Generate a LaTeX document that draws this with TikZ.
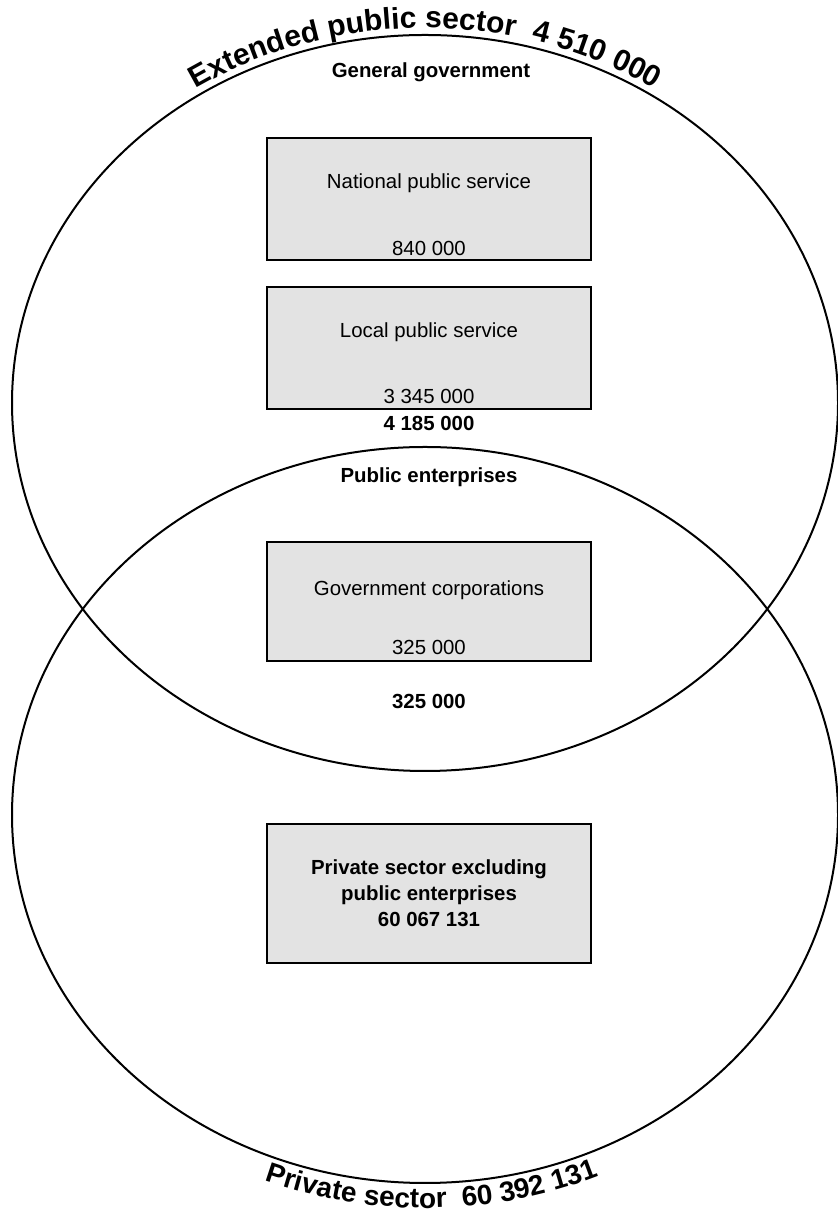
\documentclass[tikz,border=0pt]{standalone}
\usepackage{fontspec}
\setmainfont{Liberation Sans}
\usetikzlibrary{decorations.text}

\definecolor{boxgray}{RGB}{227,227,227}

\tikzset{
  sector/.style = {draw, line width=1pt},
  servbox/.style = {draw, fill=boxgray, line width=1.3pt,
                    minimum width=162pt, inner sep=0pt},
  lbl/.style = {inner sep=0pt, font=\fontsize{10.2}{12}\selectfont},
  sumlbl/.style = {inner sep=0pt, font=\fontsize{10.2}{12}\selectfont\bfseries},
}

\begin{document}
\begin{tikzpicture}[x=0.5pt, y=0.5pt]
    \useasboundingbox (0,0) rectangle (838,1214);

    % Boxes
    \node[servbox, minimum height=61pt]   (natbox) at (429,1015) {};
    \node[servbox, minimum height=61pt]   (locbox) at (429,866) {};
    \node[servbox, minimum height=59.5pt] (corpbox) at (429,612.5) {};
    \node[servbox, minimum height=69.5pt, align=center,
          font=\fontsize{10.2}{13}\selectfont\bfseries] (privbox) at (429,320.5)
          {Private sector excluding\\public enterprises\\60 067 131};

    % Labels
    \node[sumlbl] (gengov)  at (431,1142) {General government};
    \node[lbl]    (natname) at (429,1031) {National public service};
    \node[lbl]    (natnum)  at (429,966)  {840 000};
    \node[lbl]    (locname) at (429,882)  {Local public service};
    \node[lbl]    (locnum)  at (429,818)  {3 345 000};
    \node[sumlbl] (gensum)  at (429,791)  {4 185 000};
    \node[sumlbl] (pubent)  at (429,737)  {Public enterprises};
    \node[lbl]    (corpname) at (429,624) {Government corporations};
    \node[lbl]    (corpnum) at (429,567)  {325 000};
    \node[sumlbl] (pubsum)  at (429,512)  {325 000};

    % Sectors
    \draw[sector] (425,811) ellipse [x radius=413, y radius=368];
    \draw[sector] (425,399) ellipse [x radius=413, y radius=368];

    % Sector titles
    \path[decorate, decoration={text along path, text align=center,
          text={|\fontsize{15}{18}\selectfont\bfseries|Extended public sector{ }{ }4 510 000}}]
          (425,811) ++(150:420 and 375) arc[start angle=150, end angle=30, x radius=420, y radius=375];
    \path[decorate, decoration={text along path, text align=center,
          text={|\fontsize{14}{17}\selectfont\bfseries|Private sector{ }{ }60 392 131}}]
          (425,399) ++(211:438 and 393) arc[start angle=211, end angle=331, x radius=438, y radius=393];
\end{tikzpicture}
\end{document}
